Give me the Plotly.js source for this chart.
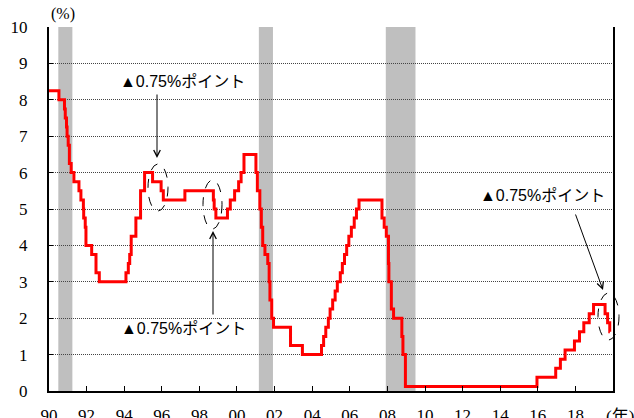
<!DOCTYPE html>
<html>
<head>
<meta charset="utf-8">
<script src="https://cdn.plot.ly/plotly-3.0.1.min.js"></script>
<style>html,body{margin:0;padding:0;background:#fff;}#chart{width:634px;height:418px;}</style>
</head>
<body>
<div id="chart"></div>
<script>
// Policy rate (FF target, midpoint after 2008) change dates and levels (%)
const rateDates = [
 '1990-01-01','1990-07-13','1990-10-29','1990-11-13','1990-12-07','1990-12-18',
 '1991-01-09','1991-02-01','1991-03-08','1991-04-30','1991-08-06','1991-09-13',
 '1991-10-31','1991-11-06','1991-12-06','1991-12-20','1992-04-09','1992-07-02',
 '1992-09-04','1994-02-04','1994-03-22','1994-04-18','1994-05-17','1994-08-16',
 '1994-11-15','1995-02-01','1995-07-06','1995-12-19','1996-01-31','1997-03-25',
 '1998-09-29','1998-10-15','1998-11-17','1999-06-30','1999-08-24','1999-11-16',
 '2000-02-02','2000-03-21','2000-05-16','2001-01-03','2001-01-31','2001-03-20',
 '2001-04-18','2001-05-15','2001-06-27','2001-08-21','2001-09-17','2001-10-02',
 '2001-11-06','2001-12-11','2002-11-06','2003-06-25','2004-06-30','2004-08-10',
 '2004-09-21','2004-11-10','2004-12-14','2005-02-02','2005-03-22','2005-05-03',
 '2005-06-30','2005-08-09','2005-09-20','2005-11-01','2005-12-13','2006-01-31',
 '2006-03-28','2006-05-10','2006-06-29','2007-09-18','2007-10-31','2007-12-11',
 '2008-01-22','2008-01-30','2008-03-18','2008-04-30','2008-10-08','2008-10-29',
 '2008-12-16','2015-12-16','2016-12-14','2017-03-15','2017-06-14','2017-12-13',
 '2018-03-21','2018-06-13','2018-09-26','2018-12-19','2019-07-31','2019-09-18',
 '2019-10-30','2019-11-01'
];
const rateValues = [
 8.25,8.0,7.75,7.5,7.25,7.0,
 6.75,6.25,6.0,5.75,5.5,5.25,
 5.0,4.75,4.5,4.0,3.75,3.25,
 3.0,3.25,3.5,3.75,4.25,4.75,
 5.5,6.0,5.75,5.5,5.25,5.5,
 5.25,5.0,4.75,5.0,5.25,5.5,
 5.75,6.0,6.5,6.0,5.5,5.0,
 4.5,4.0,3.75,3.5,3.0,2.5,
 2.0,1.75,1.25,1.0,1.25,1.5,
 1.75,2.0,2.25,2.5,2.75,3.0,
 3.25,3.5,3.75,4.0,4.25,4.5,
 4.75,5.0,5.25,4.75,4.5,4.25,
 3.5,3.0,2.25,2.0,1.5,1.0,
 0.125,0.375,0.625,0.875,1.125,1.375,
 1.625,1.875,2.125,2.375,2.125,1.875,
 1.625,1.625
];
// Recession periods (shaded)
const recessionStart = ['1990-07-01','2001-03-01','2007-12-01'];
const recessionEnd   = ['1991-03-31','2001-11-30','2009-06-30'];
const xTickDates  = ['1990-01-01','1992-01-01','1994-01-01','1996-01-01','1998-01-01','2000-01-01','2002-01-01','2004-01-01','2006-01-01','2008-01-01','2010-01-01','2012-01-01','2014-01-01','2016-01-01','2018-01-01'];
const xTickLabels = ['90','92','94','96','98','00','02','04','06','08','10','12','14','16','18'];
const yTicks = [0,1,2,3,4,5,6,7,8,9,10];
const noteText = '▲0.75%ポイント';
const titleText = 'FFレート　<span style="color:#bfbfbf">■</span>は景気後退期　の推移';

// layout helpers (plot area: x 49..613 px, y 27..391 px)
const L = 49, R = 21, T = 27, B = 27, W = 634, H = 418;
const pw = W - L - R, ph = H - T - B;
const px = v => (v - L) / pw;
const py = v => (H - B - v) / ph;

const shapes = recessionStart.map((s, i) => ({
  type: 'rect', xref: 'x', yref: 'paper', x0: s, x1: recessionEnd[i], y0: 0, y1: 1,
  fillcolor: '#bfbfbf', line: {width: 0}, layer: 'between'
}));
const ell = (x0, x1, y0, y1) => ({
  type: 'circle', xref: 'paper', yref: 'paper',
  x0: px(x0), x1: px(x1), y0: py(y1), y1: py(y0),
  line: {color: '#000', width: 1, dash: 'dash'}, fillcolor: 'rgba(0,0,0,0)', layer: 'above'
});
shapes.push(ell(148, 168, 164, 211));
shapes.push(ell(203, 222, 180, 229));
shapes.push(ell(598, 619, 293, 340));

const noteFont = {family: 'Liberation Sans, Noto Sans CJK JP', size: 16, color: '#000'};
const serif = {family: 'Liberation Serif, Times New Roman, serif', size: 17, color: '#000'};
const arrow = (tx, ty, ax, ay) => ({
  xref: 'paper', yref: 'paper', x: px(tx), y: py(ty), text: '', showarrow: true,
  ax: ax, ay: ay, arrowhead: 5, arrowsize: 1.3, arrowwidth: 1, arrowcolor: '#000'
});
const annotations = [
  {xref:'paper', yref:'paper', x: px(182), y: py(81), text: noteText, showarrow:false, font: noteFont, xanchor:'center', yanchor:'middle'},
  {xref:'paper', yref:'paper', x: px(183), y: py(328), text: noteText, showarrow:false, font: noteFont, xanchor:'center', yanchor:'middle'},
  {xref:'paper', yref:'paper', x: px(542), y: py(195), text: noteText, showarrow:false, font: noteFont, xanchor:'center', yanchor:'middle'},
  arrow(157, 158, 0, -65),
  arrow(213, 231, 0, 85),
  arrow(603, 290, -28, -77),
  {xref:'paper', yref:'paper', x: px(63), y: py(14), text: '(%)', showarrow:false,
   font: {family:'Liberation Serif, serif', size:16, color:'#000'}, xanchor:'center', yanchor:'middle'},
  {xref:'paper', yref:'paper', x: px(620), y: py(405), text: '(年)', showarrow:false,
   font: {family:'Liberation Serif, Noto Sans CJK JP', size:17, color:'#000'}, xanchor:'center', yanchor:'top'},
  {xref:'paper', yref:'paper', x: px(320), y: py(4), text: titleText, showarrow:false,
   font: {family:'Noto Sans CJK JP', size:18, color:'#000'}, xanchor:'center', yanchor:'bottom'}
];

const data = [{
  type: 'scatter', mode: 'lines', x: rateDates, y: rateValues,
  line: {color: '#ff0000', width: 3, shape: 'hv'}, hoverinfo: 'skip'
}];

const layout = {
  width: W, height: H,
  margin: {l: L, r: R, t: T, b: B, pad: 0},
  paper_bgcolor: '#fff', plot_bgcolor: '#fff',
  showlegend: false,
  xaxis: {
    type: 'date', range: ['1990-01-01', '2020-01-01'],
    tickmode: 'array', tickvals: xTickDates, ticktext: xTickLabels,
    ticks: 'inside', ticklen: 5, tickcolor: '#000', tickwidth: 1,
    showgrid: false, zeroline: false,
    showline: true, linecolor: '#000', linewidth: 2, mirror: false,
    tickfont: serif, ticklabelstandoff: 8
  },
  yaxis: {
    range: [0, 10], tickvals: yTicks, ticktext: yTicks.map(String),
    ticks: 'inside', ticklen: 4, tickcolor: '#000', tickwidth: 1,
    showgrid: true, gridcolor: '#444', gridwidth: 1, griddash: '1px,1px',
    zeroline: false,
    showline: true, linecolor: '#000', linewidth: 2, mirror: true,
    tickfont: serif, ticklabelstandoff: 16
  },
  shapes: shapes,
  annotations: annotations
};

Plotly.newPlot('chart', data, layout, {staticPlot: true, displayModeBar: false});
</script>
</body>
</html>
